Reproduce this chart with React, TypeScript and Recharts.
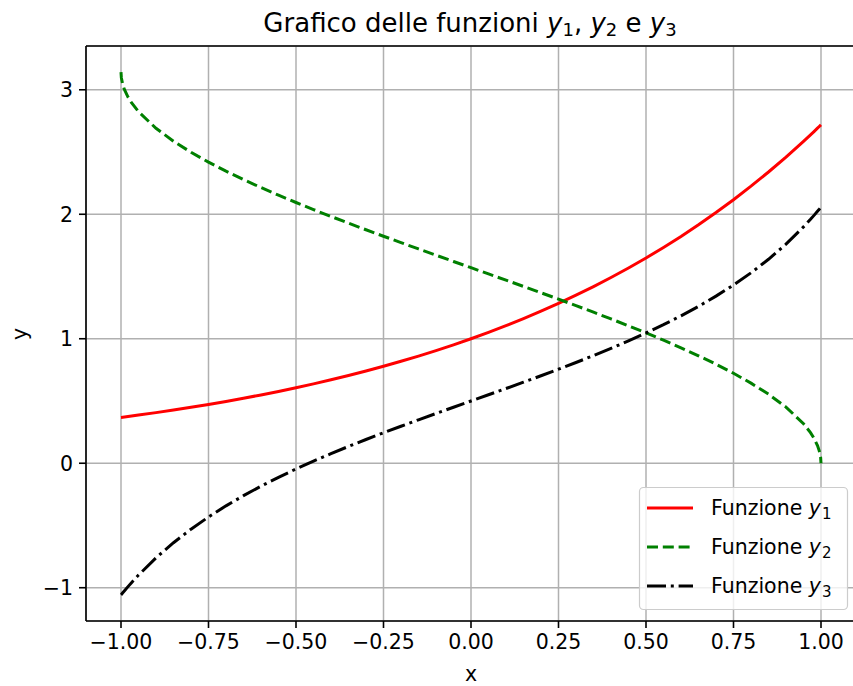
import React from 'react';
import { LineChart, Line, XAxis, YAxis, CartesianGrid, ReferenceLine } from 'recharts';

const xs = [-1, -0.999, -0.995, -0.99, -0.98, -0.97, -0.95, -0.9, -0.85, -0.8, -0.75, -0.7, -0.65, -0.6, -0.55, -0.5, -0.45, -0.4, -0.35, -0.3, -0.25, -0.2, -0.15, -0.1, -0.05, 0, 0.05, 0.1, 0.15, 0.2, 0.25, 0.3, 0.35, 0.4, 0.45, 0.5, 0.55, 0.6, 0.65, 0.7, 0.75, 0.8, 0.85, 0.9, 0.95, 0.97, 0.98, 0.99, 0.995, 0.999, 1];
const y1Values = [0.3679, 0.3682, 0.3697, 0.3716, 0.3753, 0.3791, 0.3867, 0.4066, 0.4274, 0.4493, 0.4724, 0.4966, 0.522, 0.5488, 0.5769, 0.6065, 0.6376, 0.6703, 0.7047, 0.7408, 0.7788, 0.8187, 0.8607, 0.9048, 0.9512, 1, 1.0513, 1.1052, 1.1618, 1.2214, 1.284, 1.3499, 1.4191, 1.4918, 1.5683, 1.6487, 1.7333, 1.8221, 1.9155, 2.0138, 2.117, 2.2255, 2.3396, 2.4596, 2.5857, 2.6379, 2.6645, 2.6912, 2.7048, 2.7156, 2.7183];
const y2Values = [3.1416, 3.0969, 3.0416, 3.0001, 2.9413, 2.896, 2.824, 2.6906, 2.5868, 2.4981, 2.4189, 2.3462, 2.2784, 2.2143, 2.1532, 2.0944, 2.0376, 1.9823, 1.9284, 1.8755, 1.8235, 1.7722, 1.7214, 1.671, 1.6208, 1.5708, 1.5208, 1.4706, 1.4202, 1.3694, 1.3181, 1.2661, 1.2132, 1.1593, 1.104, 1.0472, 0.9884, 0.9273, 0.8632, 0.7954, 0.7227, 0.6435, 0.5548, 0.451, 0.3176, 0.2456, 0.2003, 0.1415, 0.1001, 0.0447, 0];
const y3Values = [-1.0574, -1.0547, -1.0403, -1.0237, -0.991, -0.9592, -0.8984, -0.7602, -0.6383, -0.5296, -0.4316, -0.3423, -0.2602, -0.1841, -0.1131, -0.0463, 0.0169, 0.0772, 0.135, 0.1907, 0.2447, 0.2973, 0.3489, 0.3997, 0.45, 0.5, 0.55, 0.6003, 0.6511, 0.7027, 0.7553, 0.8093, 0.865, 0.9228, 0.9831, 1.0463, 1.1131, 1.1841, 1.2602, 1.3423, 1.4316, 1.5296, 1.6383, 1.7602, 1.8984, 1.9592, 1.991, 2.0237, 2.0403, 2.0547, 2.0574];

const xTicks = [-1, -0.75, -0.5, -0.25, 0, 0.25, 0.5, 0.75, 1];
const yTicks = [-1, 0, 1, 2, 3];
const xDomain = [-1.1, 1.1];
const yDomain = [-1.2673, 3.3516];

const seriesNames = ['1', '2', '3'];

const data = xs.map((x, i) => ({ x, y1: y1Values[i], y2: y2Values[i], y3: y3Values[i] }));

const FONT = '"DejaVu Sans", sans-serif';
const FS = 20.5;
const fmtX = (v: number) => (v < 0 ? '\u2212' + Math.abs(v).toFixed(2) : v.toFixed(2));
const fmtY = (v: number) => (v < 0 ? '\u2212' + Math.abs(v) : String(v));

const legendItems = [
  { color: '#ff0000', dash: undefined as string | undefined, sub: seriesNames[0] },
  { color: '#008000', dash: '11 4.8', sub: seriesNames[1] },
  { color: '#000000', dash: '19 4.8 3 4.8', sub: seriesNames[2] },
];

export default function App() {
  return (
    <div style={{ position: 'fixed', left: 0, top: 0, width: 853, height: 686, overflow: 'hidden', background: '#fff' }}>
      <LineChart width={853} height={686} data={data} margin={{ top: 46, right: -3, bottom: 0, left: 26 }}>
        <CartesianGrid stroke="#b0b0b0" strokeWidth={1.5} />
        <XAxis
          dataKey="x"
          type="number"
          domain={xDomain}
          ticks={xTicks}
          tickFormatter={fmtX}
          allowDataOverflow
          height={65}
          tickSize={7}
          tickMargin={6}
          stroke="#000"
          strokeWidth={1.6}
          tick={{ fill: '#000', fontSize: FS, fontFamily: FONT }}
        />
        <YAxis
          type="number"
          domain={yDomain}
          ticks={yTicks}
          tickFormatter={fmtY}
          allowDataOverflow
          width={60}
          tickSize={7}
          tickMargin={6}
          stroke="#000"
          strokeWidth={1.6}
          tick={{ fill: '#000', fontSize: FS, fontFamily: FONT }}
        />
        <ReferenceLine y={yDomain[1]} stroke="#000" strokeWidth={1.6} />
        <Line type="linear" dataKey="y1" stroke="#ff0000" strokeWidth={3} dot={false} isAnimationActive={false} />
        <Line type="linear" dataKey="y2" stroke="#008000" strokeWidth={3} strokeDasharray="11 4.8" dot={false} isAnimationActive={false} />
        <Line type="linear" dataKey="y3" stroke="#000000" strokeWidth={3} strokeDasharray="19 4.8 3 4.8" dot={false} isAnimationActive={false} />
      </LineChart>
      <svg width={853} height={686} style={{ position: 'absolute', left: 0, top: 0, pointerEvents: 'none' }} fontFamily={FONT}>
        <text x={470} y={32} textAnchor="middle" fontSize={26} fill="#000">
          <tspan>Grafico delle funzioni </tspan>
          <tspan fontStyle="italic">y</tspan>
          <tspan fontSize={18} dy={4}>1</tspan>
          <tspan dy={-4}>, </tspan>
          <tspan fontStyle="italic">y</tspan>
          <tspan fontSize={18} dy={4}>2</tspan>
          <tspan dy={-4}> e </tspan>
          <tspan fontStyle="italic">y</tspan>
          <tspan fontSize={18} dy={4}>3</tspan>
        </text>
        <text x={471} y={681} textAnchor="middle" fontSize={FS} fill="#000">x</text>
        <text x={20} y={334} textAnchor="middle" fontSize={FS} fill="#000" dy="0.35em" transform="rotate(-90 20 334)">y</text>
        <rect x={639.5} y={487.5} width={208} height={122} rx={4} ry={4} fill="rgba(255,255,255,0.8)" stroke="#cccccc" strokeWidth={1.2} />
        {legendItems.map((it, i) => {
          const cy = 508 + i * 39;
          return (
            <g key={i}>
              <line x1={647} x2={693} y1={cy} y2={cy} stroke={it.color} strokeWidth={3} strokeDasharray={it.dash} />
              <text x={711} y={cy + 7} fontSize={FS} fill="#000">
                <tspan>Funzione </tspan>
                <tspan fontStyle="italic">y</tspan>
                <tspan fontSize={15} dx={1} dy={4}>{it.sub}</tspan>
              </text>
            </g>
          );
        })}
      </svg>
    </div>
  );
}
